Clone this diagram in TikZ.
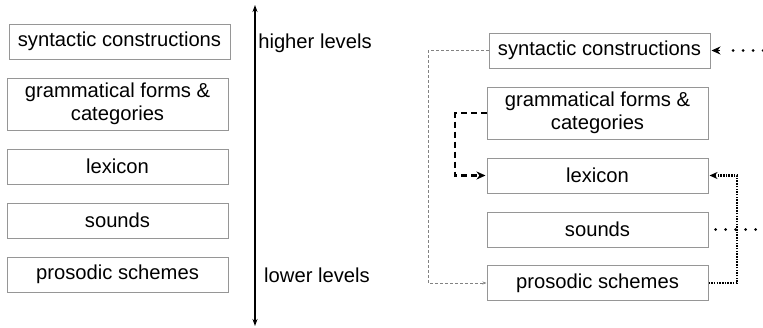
\documentclass[tikz,border=0pt]{standalone}
\usepackage{fontspec}
\setmainfont{Liberation Sans}
\usetikzlibrary{arrows.meta}
\definecolor{boxgray}{RGB}{150,150,150}
\definecolor{linegray}{RGB}{130,130,130}
\begin{document}
\begin{tikzpicture}[x=1pt,y=-1pt,
  lvl/.style={draw=boxgray, line width=1pt, minimum width=221pt, minimum height=35pt,
    inner sep=0pt, align=center, font=\fontsize{20.2}{23}\selectfont},
  lvltall/.style={lvl, minimum height=52pt},
  lbl/.style={font=\fontsize{20.2}{23}\selectfont, inner sep=0pt},
  gdash/.style={draw=linegray, line width=0.7pt, dash pattern=on 3pt off 2pt},
  bdash/.style={draw=black, line width=2.6pt, dash pattern=on 6pt off 4pt},
  ddot/.style={draw=black, line width=2.4pt, dash pattern=on 1.5pt off 1.2pt},
  ldot/.style={draw=black, line width=3pt, line cap=round, dash pattern=on 0pt off 10pt}
]
\useasboundingbox (0,0) rectangle (763,327);
% left column
\node[lvl] (ls) at (119.5,41.5) {syntactic constructions};
\node[lvltall] (lg) at (117.5,104) {grammatical forms \&\\categories};
\node[lvl] (ll) at (117.5,166.5) {lexicon};
\node[lvl] (lso) at (117.5,220.5) {sounds};
\node[lvl] (lp) at (117.5,274.5) {prosodic schemes};
\coordinate (atop) at (255,5);
\coordinate (abot) at (255,326);
\draw[line width=1.4pt, {Stealth[length=7pt,width=5pt]}-{Stealth[length=7pt,width=5pt]}] (atop) -- (abot);
\node[lbl] (hi) at (315,43) {higher levels};
\node[lbl] (lo) at (317,275) {lower levels};
% right column
\node[lvl] (rs) at (599.5,50.5) {syntactic constructions};
\node[lvltall] (rg) at (597.5,113) {grammatical forms \&\\categories};
\node[lvl] (rl) at (597.5,175.5) {lexicon};
\node[lvl] (rso) at (597.5,229.5) {sounds};
\node[lvl] (rp) at (597.5,283) {prosodic schemes};
% connectors
\draw[gdash, -{Stealth[length=4pt,width=3pt]}] (rs.west) -- (428,50.5) |- (rp.west);
\draw[bdash, -{Stealth[length=9pt,width=8pt]}] (rg.west) -- (455,113) |- ([xshift=-1pt]rl.west);
\draw[ddot, -{Stealth[length=8pt,width=7pt]}] (rp.east) -- (737,283) |- ([xshift=1pt]rl.east);
\coordinate (ein) at (763,50.5);
\draw[ldot] (ein) -- (726,50.5);
\draw[black, line width=1pt, -{Stealth[length=9pt,width=8pt]}] (720,50.5) -- ([xshift=1pt]rs.east);
\coordinate (eout) at (763,229.5);
\draw[ldot] ([xshift=7pt]rso.east) -- (eout);
\end{tikzpicture}
\end{document}
